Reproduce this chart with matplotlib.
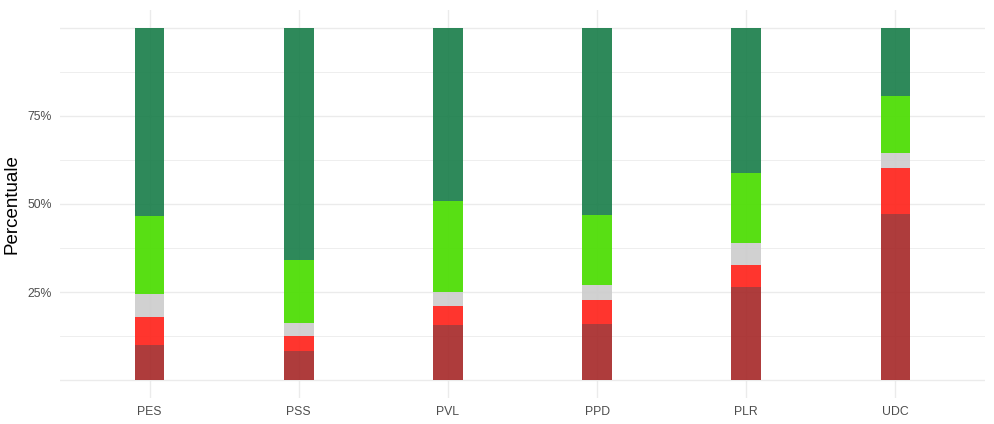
import numpy as np
import matplotlib.pyplot as plt

plt.rcParams['font.family'] = ['Liberation Sans', 'DejaVu Sans']

partiti = ['PES', 'PSS', 'PVL', 'PPD', 'PLR', 'UDC']
# segment shares in percent, bottom to top
molto_contrario = [9.9, 8.3, 15.8, 16.0, 26.6, 47.2]
contrario = [8.2, 4.3, 5.4, 6.9, 6.2, 12.9]
non_so = [6.5, 3.8, 3.8, 4.0, 6.1, 4.3]
favorevole = [22.1, 17.6, 25.8, 20.0, 19.9, 16.3]
molto_favorevole = [53.3, 66.0, 49.2, 53.1, 41.2, 19.3]

series = [molto_contrario, contrario, non_so, favorevole, molto_favorevole]
colori = ['#A72B2B', '#FF241C', '#CDCDCD', '#4ADD00', '#1C7F4C']

fig = plt.figure(figsize=(9.94, 4.24), dpi=100)
ax = fig.add_axes([60 / 994, 1 - 398 / 424, 925 / 994, 388 / 424])

x = np.arange(len(partiti))
bottom = np.zeros(len(partiti))
for vals, col in zip(series, colori):
    ax.bar(x, vals, bottom=bottom, width=0.2, color=col, alpha=0.92, zorder=2)
    bottom += np.array(vals)

ax.set_xlim(-0.6, len(partiti) - 0.4)
ax.set_ylim(-5, 105)
ax.set_xticks(x)
ax.set_xticklabels(partiti)
ax.set_yticks([25, 50, 75])
ax.set_yticklabels(['25%', '50%', '75%'])
for yv in np.arange(0, 101, 12.5):
    lw = 1.0 if yv % 25 == 0 else 0.6
    ax.axhline(yv, color='#EBEBEB', lw=lw, zorder=0)
for xv in x:
    ax.axvline(xv, color='#EBEBEB', lw=1.0, zorder=0)

ax.tick_params(length=0, labelsize=8.8, labelcolor='#4D4D4D', pad=6)
ax.set_ylabel('Percentuale', fontsize=13.5)
ax.yaxis.set_label_coords(-39 / 925, 0.5)
for s in ax.spines.values():
    s.set_visible(False)

fig.savefig('out.png', dpi=100)
